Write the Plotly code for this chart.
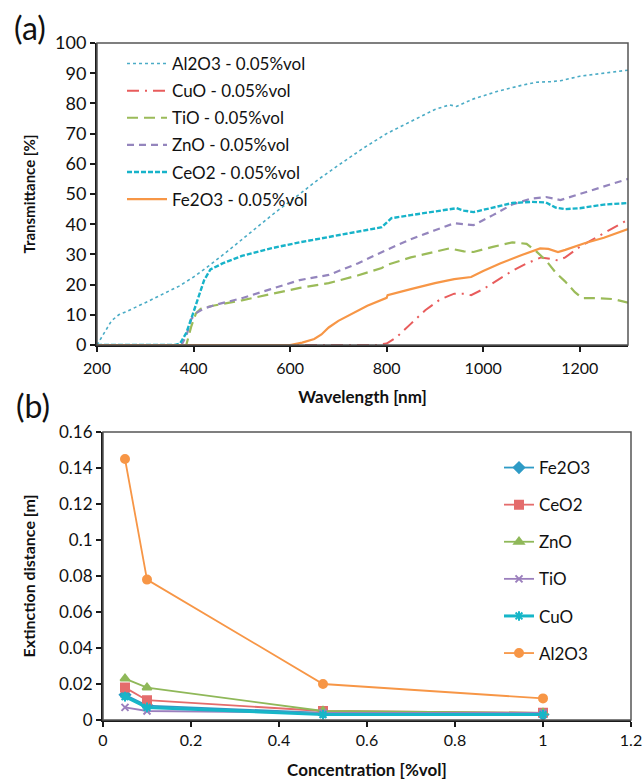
import plotly.graph_objects as go

# ---------------- (a) Transmittance data ----------------
al2o3_wl = [200, 215, 230, 245, 260, 300, 340, 370, 400, 430, 470, 520, 570, 620, 660, 700, 750, 800, 850, 900, 930, 945, 980, 1030, 1080, 1110, 1140, 1160, 1200, 1250, 1300]
al2o3_t = [0, 4, 8, 10, 11, 14, 17, 19.5, 22.5, 26, 31, 37.5, 44, 50, 55, 59.5, 65, 70, 74, 78, 79.5, 79, 81.5, 84, 86, 87, 87.2, 87.5, 89, 90, 91]

cuo_wl = [200, 780, 800, 820, 850, 880, 910, 940, 960, 975, 1000, 1030, 1060, 1090, 1120, 1140, 1155, 1170, 1200, 1250, 1300]
cuo_t = [0, 0, 0.5, 2.5, 7, 11.5, 15, 17, 17, 16.5, 18.5, 21.5, 24.5, 27, 29, 28.5, 28, 29, 32.5, 37, 41.5]

tio_wl = [200, 385, 395, 405, 415, 440, 500, 560, 620, 680, 740, 790, 800, 850, 900, 930, 960, 980, 1020, 1060, 1090, 1110, 1130, 1150, 1170, 1190, 1205, 1240, 1270, 1300]
tio_t = [0, 0, 6, 10.5, 12, 13, 14.8, 16.8, 18.9, 20.5, 23, 25.5, 26.5, 29, 31, 32, 31, 30.8, 32.5, 34, 33.5, 31, 28, 24, 21, 17.5, 15.5, 15.5, 15.2, 14]

zno_wl = [200, 375, 385, 395, 405, 420, 450, 500, 560, 620, 680, 740, 800, 850, 900, 940, 960, 980, 1020, 1060, 1100, 1130, 1160, 1200, 1250, 1300]
zno_t = [0, 0, 3, 8.5, 10.5, 12, 13.5, 15.5, 18.5, 21.5, 23.2, 27, 31.5, 35, 38, 40.3, 40, 39.7, 43, 46.5, 48.5, 49, 48, 50, 52.5, 55]

ceo2_wl = [200, 362, 372, 385, 398, 410, 422, 435, 460, 500, 560, 620, 680, 740, 790, 800, 810, 850, 900, 945, 960, 980, 1020, 1060, 1100, 1130, 1150, 1170, 1200, 1250, 1300]
ceo2_t = [0, 0, 0.5, 4, 10, 16, 21.5, 25, 27, 29.5, 32, 34, 35.7, 37.5, 39, 40.5, 42, 43, 44.3, 45.3, 44.5, 44, 45.5, 47, 47.4, 47.2, 45.5, 45, 45.3, 46.5, 47]

fe2o3_wl = [200, 600, 625, 650, 665, 680, 700, 725, 760, 800, 802, 850, 900, 940, 975, 1000, 1035, 1080, 1118, 1135, 1155, 1170, 1210, 1250, 1300]
fe2o3_t = [0, 0, 0.8, 2, 3.5, 5.8, 8, 10, 13, 15.6, 16.5, 18.5, 20.5, 21.8, 22.5, 24.5, 27, 29.8, 32, 31.8, 30.8, 31.5, 33.7, 35.5, 38.4]

wl_ticks = [200, 400, 600, 800, 1000, 1200]
trans_ticks = [0, 10, 20, 30, 40, 50, 60, 70, 80, 90, 100]

# ---------------- (b) Extinction distance data ----------------
conc = [0.05, 0.1, 0.5, 1.0]
ext_fe2o3 = [0.014, 0.008, 0.004, 0.003]
ext_ceo2 = [0.018, 0.011, 0.005, 0.004]
ext_zno = [0.023, 0.018, 0.005, 0.004]
ext_tio = [0.007, 0.005, 0.004, 0.004]
ext_cuo = [0.013, 0.007, 0.003, 0.003]
ext_al2o3 = [0.145, 0.078, 0.020, 0.012]

conc_ticks = [0, 0.2, 0.4, 0.6, 0.8, 1, 1.2]
conc_labels = ["0", "0.2", "0.4", "0.6", "0.8", "1", "1.2"]
ext_ticks = [0, 0.02, 0.04, 0.06, 0.08, 0.1, 0.12, 0.14, 0.16]
ext_labels = ["0", "0.02", "0.04", "0.06", "0.08", "0.1", "0.12", "0.14", "0.16"]

FONT = "Lato, 'Open Sans', sans-serif"
W, H = 642, 780

def px(x):
    return x / W

def py(y):
    return 1 - y / H

fig = go.Figure()

top_series = [
    ("Al2O3 - 0.05%vol", al2o3_wl, al2o3_t, "#4bacc6", "dot", 1.6),
    ("CuO - 0.05%vol", cuo_wl, cuo_t, "#e85c5c", "12px,6px,2px,6px", 2),
    ("TiO - 0.05%vol", tio_wl, tio_t, "#9bbb59", "11px,6px", 2.2),
    ("ZnO - 0.05%vol", zno_wl, zno_t, "#9485bd", "7px,5px", 2.2),
    ("CeO2 - 0.05%vol", ceo2_wl, ceo2_t, "#17b3c9", "5px,2px", 2.4),
    ("Fe2O3 - 0.05%vol", fe2o3_wl, fe2o3_t, "#f79646", "solid", 2.2),
]
for i, (name, xs, ys, col, dash, w) in enumerate(top_series):
    fig.add_trace(go.Scatter(
        x=xs, y=ys, name=name, mode="lines",
        line=dict(color=col, dash=dash, width=w),
        xaxis="x", yaxis="y", legend="legend", legendgroup=f"a{i}",
    ))

bot_series = [
    ("Fe2O3", ext_fe2o3, "#2e9bc6", "diamond", 8),
    ("CeO2", ext_ceo2, "#e46c6c", "square", 8),
    ("ZnO", ext_zno, "#8fb859", "triangle-up", 8),
    ("TiO", ext_tio, "#9b7fbd", "x-thin-open", 7),
    ("CuO", ext_cuo, "#16b6c8", "asterisk-open", 8),
    ("Al2O3", ext_al2o3, "#f79646", "circle", 8),
]
for i, (name, ys, col, sym, ms) in enumerate(bot_series):
    fig.add_trace(go.Scatter(
        x=conc, y=ys, name=name, mode="lines+markers",
        line=dict(color=col, width=3 if name == "CuO" else 1.8),
        marker=dict(symbol=sym, size=ms, color=col, line=dict(color=col, width=2)),
        xaxis="x2", yaxis="y2", legend="legend2", legendgroup=f"b{i}",
    ))

axis_common = dict(
    showgrid=False, zeroline=False, showline=True, linecolor="#1a1a1a", linewidth=2,
    ticks="outside", ticklen=5, tickwidth=1.5, tickcolor="#1a1a1a", automargin=False,
    mirror=False, ticklabeloverflow="allow",
)

def tfont(size):
    return dict(family=FONT, size=size, weight="bold", color="#111")

fig.update_layout(
    width=W, height=H, margin=dict(l=0, r=0, t=0, b=0, autoexpand=False),
    paper_bgcolor="white", plot_bgcolor="white",
    font=dict(family=FONT, color="#111"),
    xaxis=dict(axis_common, domain=[px(97), px(628)], range=[200, 1300], tickvals=wl_ticks,
               anchor="y", tickfont=dict(family=FONT, size=16, color="#111"), ticklabelstandoff=3,
               title=dict(text="Wavelength [nm]", font=tfont(17), standoff=15)),
    yaxis=dict(axis_common, domain=[py(345), py(43)], range=[0, 100], tickvals=trans_ticks, anchor="x",
               tickfont=dict(family=FONT, size=18, color="#111"),
               title=dict(text="Transmittance [%]", font=tfont(15), standoff=16)),
    xaxis2=dict(axis_common, domain=[px(103), px(631)], range=[0, 1.2], tickvals=conc_ticks,
                ticktext=conc_labels, anchor="y2", tickfont=dict(family=FONT, size=16, color="#111"),
                title=dict(text="Concentration [%vol]", font=tfont(17), standoff=17)),
    yaxis2=dict(axis_common, domain=[py(720), py(432)], range=[0, 0.16], tickvals=ext_ticks,
                ticktext=ext_labels, anchor="x2", tickfont=dict(family=FONT, size=17, color="#111"),
                title=dict(text="Extinction distance [m]", font=tfont(16), standoff=19)),
    legend=dict(x=px(122), y=py(46), xanchor="left", yanchor="top", bgcolor="rgba(0,0,0,0)",
                font=dict(family=FONT, size=17, color="#111"), tracegroupgap=2, itemwidth=40),
    legend2=dict(x=px(499), y=py(450), xanchor="left", yanchor="top", bgcolor="rgba(0,0,0,0)",
                 font=dict(family=FONT, size=17, color="#111"), tracegroupgap=12, itemwidth=30),
    showlegend=True,
)

for xr, yr in (("x", "y"), ("x2", "y2")):
    fig.add_shape(type="rect", xref=f"{xr} domain", yref=f"{yr} domain", x0=0, x1=1, y0=0, y1=1,
                  line=dict(color="#555", width=1.5), fillcolor="rgba(0,0,0,0)", layer="above")

fig.add_annotation(text="(a)", x=px(12), y=py(28), xref="paper", yref="paper", xanchor="left", yanchor="middle",
                   showarrow=False, font=dict(family=FONT, size=32, color="#111"))
fig.add_annotation(text="(b)", x=px(14), y=py(405), xref="paper", yref="paper", xanchor="left", yanchor="middle",
                   showarrow=False, font=dict(family=FONT, size=32, color="#111"))

fig.write_html("out.html", config={"displayModeBar": False},
               post_script="document.body.style.margin='0';document.body.style.overflow='hidden';")
